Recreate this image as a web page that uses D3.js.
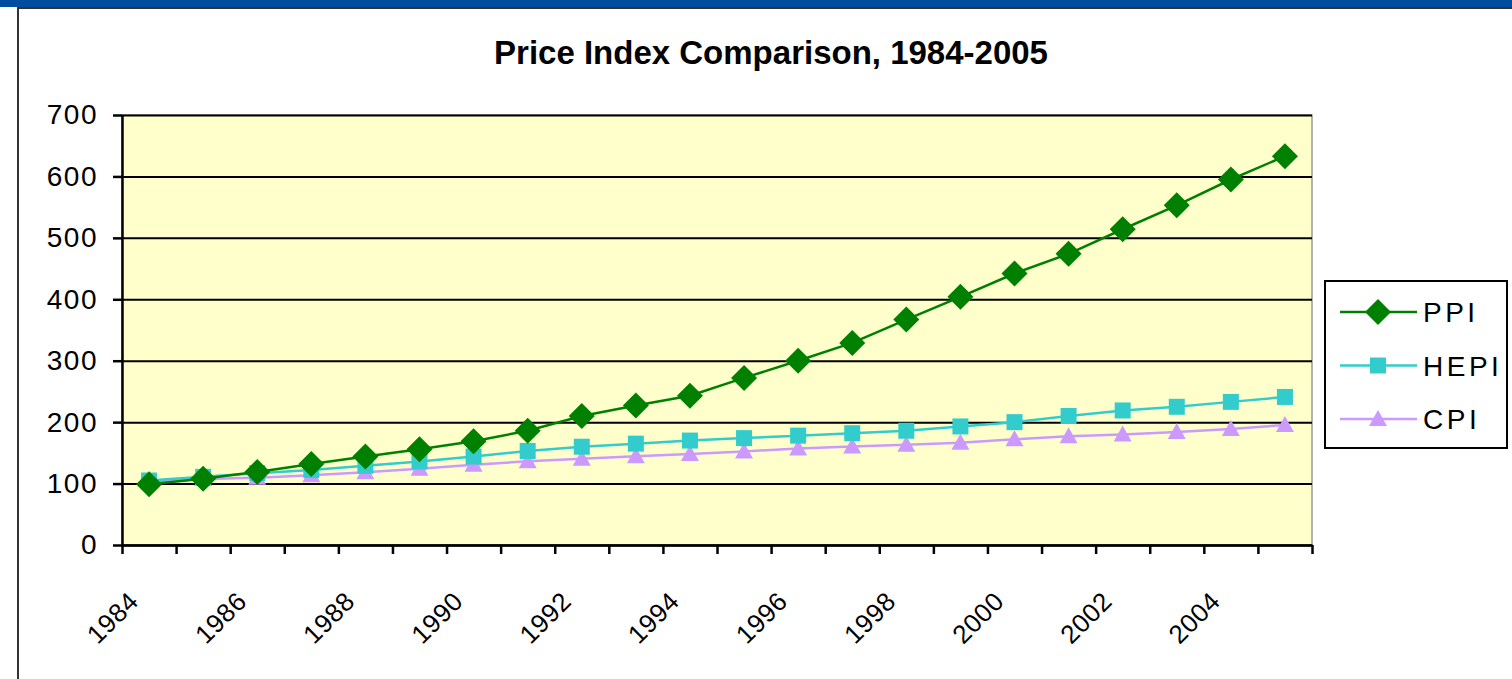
<!DOCTYPE html>
<html lang="en">
<head>
    <meta charset="UTF-8">
    <script src="https://d3js.org/d3.v7.min.js"></script>
    <style>
        body {margin: 0; background: #ffffff; overflow: hidden}
        svg {display: block}
        text {font-family: "Liberation Sans", Arial, sans-serif; fill: #000}
    </style>
</head>
<body>
<svg class="chart"></svg>
<script type="text/javascript">
    // data
    const years = d3.range(1984, 2006);
    const ppi = [99, 108, 119, 132, 144, 156, 169, 186, 210, 227, 243, 272, 300, 329, 367, 404, 442, 474, 514, 553, 595, 633];
    const hepi = [105, 111, 117, 122, 129, 136, 144, 153, 160, 165, 170, 174, 178, 182, 186, 193, 200, 210, 219, 225, 233, 241];
    const cpi = [103.9, 107.6, 109.6, 113.6, 118.3, 124.0, 130.7, 136.2, 140.3, 144.5, 148.2, 152.4, 156.9, 160.5, 163.0, 166.6, 172.2, 177.1, 179.9, 184.0, 188.9, 195.3];
    const yTicks = [0, 100, 200, 300, 400, 500, 600, 700];
    const xLabelYears = years.filter(function (y) { return y % 2 === 0; });
    const seriesNames = ['PPI', 'HEPI', 'CPI'];

    const width = 1512, height = 679;
    const plot = {left: 122, right: 1312, top: 115, bottom: 545};

    const svg = d3.select('.chart').attr('width', width).attr('height', height);

    // top bar and outer chart frame
    svg.append('rect').attr('x', 0).attr('y', 0).attr('width', width).attr('height', 7).attr('fill', '#004c9e');
    svg.append('rect').attr('x', 18).attr('y', 8).attr('width', width + 20).attr('height', height + 20)
        .attr('fill', '#ffffff').attr('stroke', '#333').attr('stroke-width', 2);

    svg.append('text').attr('x', 771).attr('y', 64).attr('text-anchor', 'middle')
        .attr('font-size', 33).attr('font-weight', 'bold').text('Price Index Comparison, 1984-2005');

    const x = d3.scaleLinear().domain([1984, 2006]).range([plot.left, plot.right]);
    const y = d3.scaleLinear().domain([0, 700]).range([plot.bottom, plot.top]);
    const px = function (d, i) { return x(years[i] + 0.5); };

    // plot background
    svg.append('rect').attr('x', plot.left).attr('y', plot.top)
        .attr('width', plot.right - plot.left).attr('height', plot.bottom - plot.top)
        .attr('fill', '#ffffcc').attr('stroke', '#999').attr('stroke-width', 1.5);

    // gridlines
    const grid = svg.append('g').attr('transform', 'translate(' + plot.left + ',0)')
        .call(d3.axisLeft(y).tickValues(yTicks).tickSize(-(plot.right - plot.left)).tickFormat(''));
    grid.select('.domain').remove();
    grid.selectAll('line').attr('stroke', '#000').attr('stroke-width', 2);

    // y axis
    const yAxis = svg.append('g').attr('transform', 'translate(' + plot.left + ',0)')
        .call(d3.axisLeft(y).tickValues(yTicks).tickSize(9).tickPadding(15).tickSizeOuter(0));
    yAxis.select('.domain').attr('stroke', '#000').attr('stroke-width', 2.5);
    yAxis.selectAll('line').attr('stroke', '#000').attr('stroke-width', 2.5);
    yAxis.selectAll('text').attr('font-size', 28).attr('letter-spacing', 1.5)
        .attr('font-family', '"Liberation Sans", Arial, sans-serif').attr('fill', '#000');

    // x axis, ticks between categories
    const xAxis = svg.append('g').attr('transform', 'translate(0,' + plot.bottom + ')')
        .call(d3.axisBottom(x).tickValues(d3.range(1984, 2007)).tickSize(9).tickSizeOuter(0).tickFormat(''));
    xAxis.select('.domain').attr('stroke', '#000').attr('stroke-width', 2.5);
    xAxis.selectAll('line').attr('stroke', '#000').attr('stroke-width', 2.5);

    svg.append('g').selectAll('text').data(xLabelYears).enter().append('text')
        .attr('transform', function (d) { return 'translate(' + (x(d + 0.5) - 9) + ',603) rotate(-45)'; })
        .attr('text-anchor', 'end').attr('font-size', 26).attr('letter-spacing', 0.5)
        .text(function (d) { return d; });

    // series
    const series = [
        {name: 'PPI', values: ppi, color: '#008000', marker: 'diamond'},
        {name: 'HEPI', values: hepi, color: '#33cccc', marker: 'square'},
        {name: 'CPI', values: cpi, color: '#cc99ff', marker: 'triangle'}
    ];

    function markerPath(type) {
        if (type === 'diamond') return 'M0,-13L13,0L0,13L-13,0Z';
        if (type === 'square') return 'M-8,-8H8V8H-8Z';
        return 'M0,-9L9,7H-9Z';
    }

    const line = d3.line().x(px).y(function (d) { return y(d); });

    // draw back to front: CPI, HEPI, PPI
    series.slice().reverse().forEach(function (s) {
        const g = svg.append('g');
        g.append('path').datum(s.values).attr('d', line)
            .attr('fill', 'none').attr('stroke', s.color).attr('stroke-width', 2.5);
        g.selectAll('path.m').data(s.values).enter().append('path').attr('class', 'm')
            .attr('transform', function (d, i) { return 'translate(' + px(d, i) + ',' + y(d) + ')'; })
            .attr('d', markerPath(s.marker)).attr('fill', s.color);
    });

    // legend
    const legend = svg.append('g');
    legend.append('rect').attr('x', 1325).attr('y', 281).attr('width', 182).attr('height', 167)
        .attr('fill', '#ffffff').attr('stroke', '#000').attr('stroke-width', 2);
    const legendY = d3.scalePoint().domain(seriesNames).range([312, 419]);
    series.forEach(function (s) {
        const ly = legendY(s.name);
        legend.append('line').attr('x1', 1340).attr('x2', 1417).attr('y1', ly).attr('y2', ly)
            .attr('stroke', s.color).attr('stroke-width', 2.5);
        legend.append('path').attr('transform', 'translate(1378,' + ly + ')')
            .attr('d', markerPath(s.marker)).attr('fill', s.color);
        legend.append('text').attr('x', 1423).attr('y', ly).attr('dy', '0.36em')
            .attr('font-size', 28).attr('letter-spacing', 3.5).text(s.name);
    });
</script>
</body>
</html>
